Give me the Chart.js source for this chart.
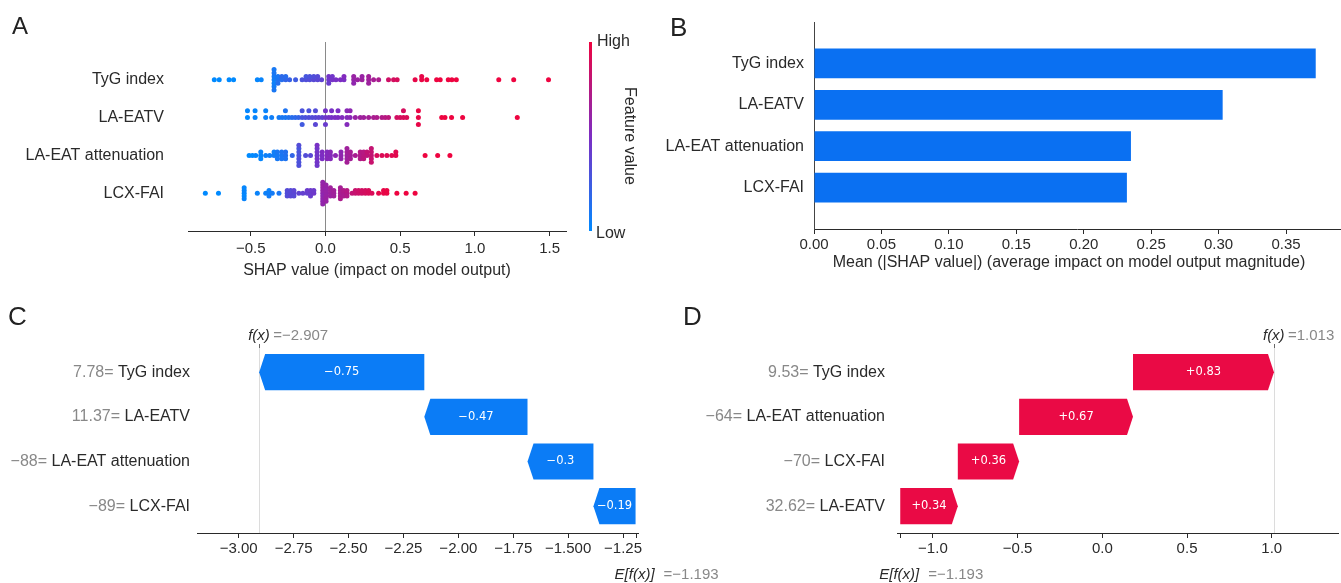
<!DOCTYPE html>
<html>
<head>
<meta charset="utf-8">
<script src="https://cdn.jsdelivr.net/npm/chart.js@4.4.1/dist/chart.umd.min.js"></script>
<style>
  body { margin: 0; background: #fff; }
  #page { position: relative; width: 1341px; height: 583px; overflow: hidden; font-family: 'Liberation Sans', Arial, sans-serif; }
  canvas { position: absolute; }
  .tag { position: absolute; color: #222; line-height: 1; }
</style>
</head>
<body>
<div id="page">
  <canvas id="chartA" width="660" height="290" style="left:0px;top:0px"></canvas>
  <canvas id="chartB" width="681" height="290" style="left:660px;top:0px"></canvas>
  <canvas id="chartC" width="745" height="283" style="left:0px;top:300px"></canvas>
  <canvas id="chartD" width="681" height="283" style="left:660px;top:300px"></canvas>
  <div class="tag" style="left:12px;top:14px;font-size:24px">A</div>
  <div class="tag" style="left:670px;top:14px;font-size:26px">B</div>
  <div class="tag" style="left:8px;top:303px;font-size:26px">C</div>
  <div class="tag" style="left:683px;top:303px;font-size:26px">D</div>
</div>
<script>
// ---- data ----
const features = ['TyG index', 'LA-EATV', 'LA-EAT attenuation', 'LCX-FAI'];

// panel A: SHAP value and (normalised) feature value for every sample
const tygShap = [-0.744, -0.711, -0.645, -0.615, -0.456, -0.43,
  -0.344, -0.344, -0.344, -0.344, -0.344, -0.344, -0.344,
  -0.318, -0.318, -0.318, -0.292, -0.292, -0.266, -0.266, -0.24, -0.2,
  -0.156, -0.13, -0.13, -0.105, -0.105, -0.078, -0.078, -0.052, -0.052, -0.026,
  0.022, 0.022, 0.022, 0.046, 0.046, 0.07, 0.1, 0.124, 0.124,
  0.189, 0.189, 0.189, 0.215, 0.245, 0.245, 0.289, 0.289, 0.289, 0.322, 0.356,
  0.422, 0.456, 0.48,
  0.6, 0.644, 0.644, 0.678, 0.744, 0.768, 0.822, 0.846, 0.876,
  1.16, 1.26, 1.493];
const tygFeat = [0, 0, 0, 0, 0.02, 0.03,
  0.06, 0.08, 0.05, 0.1, 0.07, 0.09, 0.1,
  0.12, 0.1, 0.14, 0.15, 0.18, 0.2, 0.16, 0.22, 0.25,
  0.3, 0.32, 0.28, 0.33, 0.3, 0.35, 0.32, 0.36, 0.34, 0.38,
  0.44, 0.46, 0.42, 0.47, 0.45, 0.48, 0.5, 0.49, 0.52,
  0.6, 0.62, 0.58, 0.63, 0.64, 0.62, 0.65, 0.66, 0.64, 0.68, 0.7,
  0.86, 0.88, 0.9,
  0.97, 0.98, 0.97, 0.99, 1, 1, 1, 1, 1,
  1, 1, 1];

const eatvShap = [-0.522, -0.522, -0.471, -0.471, -0.4, -0.4, -0.36,
  -0.311, -0.29, -0.268, -0.268, -0.246, -0.224, -0.202, -0.18,
  -0.156, -0.156, -0.156, -0.134, -0.111, -0.111, -0.089, -0.067, -0.067, -0.067, -0.045, -0.022,
  0, 0, 0, 0.022, 0.041, 0.041, 0.064, 0.084, 0.084, 0.111, 0.144, 0.144, 0.144, 0.165, 0.165,
  0.2, 0.233, 0.256, 0.289, 0.322, 0.344, 0.378, 0.4, 0.422,
  0.478, 0.5, 0.522, 0.522, 0.544,
  0.622, 0.622, 0.622,
  0.778, 0.8, 0.844, 0.918,
  1.284];
const eatvFeat = [0, 0.02, 0.03, 0.02, 0.05, 0.04, 0.06,
  0.08, 0.1, 0.1, 0.12, 0.13, 0.15, 0.17, 0.2,
  0.28, 0.3, 0.26, 0.3, 0.32, 0.3, 0.33, 0.35, 0.33, 0.36, 0.37, 0.38,
  0.44, 0.46, 0.42, 0.46, 0.47, 0.48, 0.49, 0.5, 0.49, 0.52, 0.53, 0.55, 0.53, 0.55, 0.57,
  0.62, 0.64, 0.65, 0.67, 0.69, 0.71, 0.73, 0.75, 0.77,
  0.87, 0.88, 0.9, 0.89, 0.91,
  0.97, 0.98, 0.97,
  1, 1, 1, 1,
  1];

const attShap = [-0.511, -0.489, -0.467, -0.433, -0.433, -0.433, -0.4, -0.373, -0.344, -0.344,
  -0.322, -0.322, -0.322, -0.293, -0.293, -0.293, -0.267, -0.267, -0.267, -0.222,
  -0.178, -0.178, -0.178, -0.178, -0.178, -0.178, -0.178, -0.133, -0.1,
  -0.056, -0.056, -0.056, -0.056, -0.056, -0.056, -0.056,
  -0.022, -0.022, -0.022, 0.011, 0.011, 0.011, 0.033, 0.033, 0.033, 0.067, 0.104, 0.104, 0.104,
  0.144, 0.144, 0.144, 0.144, 0.144, 0.167, 0.167, 0.167, 0.2,
  0.233, 0.233, 0.233, 0.256, 0.256, 0.256, 0.278, 0.278, 0.307, 0.307, 0.307, 0.307, 0.307,
  0.344, 0.378, 0.411, 0.444, 0.471, 0.471,
  0.667, 0.751, 0.833];
const attFeat = [0, 0, 0.02, 0.03, 0.04, 0.02, 0.05, 0.06, 0.07, 0.06,
  0.08, 0.1, 0.09, 0.1, 0.12, 0.11, 0.13, 0.14, 0.12, 0.2,
  0.3, 0.3, 0.32, 0.28, 0.3, 0.33, 0.31, 0.33, 0.36,
  0.44, 0.46, 0.47, 0.45, 0.46, 0.48, 0.44,
  0.5, 0.51, 0.49, 0.53, 0.52, 0.54, 0.53, 0.55, 0.54, 0.56, 0.58, 0.57, 0.59,
  0.64, 0.66, 0.64, 0.65, 0.67, 0.66, 0.68, 0.67, 0.69,
  0.72, 0.74, 0.73, 0.76, 0.75, 0.77, 0.78, 0.8, 0.8, 0.81, 0.82, 0.81, 0.83,
  0.9, 0.92, 0.93, 0.94, 0.95, 0.94,
  1, 1, 1];

const lcxShap = [-0.804, -0.716, -0.544, -0.544, -0.544, -0.544, -0.544, -0.456,
  -0.4, -0.378, -0.378, -0.378, -0.356, -0.311,
  -0.256, -0.256, -0.256, -0.233, -0.233, -0.233, -0.211, -0.211, -0.211,
  -0.178, -0.151, -0.122, -0.122, -0.1, -0.1, -0.1, -0.078, -0.078,
  -0.018, -0.018, -0.018, -0.018, -0.018, -0.018, -0.018, -0.018, -0.018,
  0.004, 0.004, 0.004, 0.004, 0.004, 0.004, 0.004,
  0.033, 0.033, 0.033, 0.033, 0.056, 0.056, 0.056,
  0.1, 0.1, 0.1, 0.1, 0.1, 0.122, 0.122, 0.122, 0.144, 0.144, 0.144,
  0.178, 0.2, 0.2, 0.222, 0.222, 0.244, 0.244, 0.267, 0.267, 0.289, 0.289, 0.311,
  0.356, 0.389, 0.389, 0.411, 0.411, 0.478, 0.54, 0.6];
const lcxFeat = [0, 0, 0.02, 0.03, 0.01, 0.02, 0.03, 0.04,
  0.05, 0.06, 0.05, 0.07, 0.08, 0.1,
  0.32, 0.34, 0.33, 0.35, 0.34, 0.36, 0.36, 0.37, 0.35,
  0.38, 0.4, 0.4, 0.42, 0.41, 0.43, 0.42, 0.44, 0.43,
  0.58, 0.6, 0.57, 0.61, 0.59, 0.62, 0.58, 0.6, 0.59,
  0.6, 0.61, 0.62, 0.6, 0.63, 0.61, 0.62,
  0.63, 0.64, 0.63, 0.65, 0.65, 0.66, 0.65,
  0.68, 0.7, 0.69, 0.68, 0.71, 0.71, 0.72, 0.7, 0.73, 0.74, 0.72,
  0.8, 0.82, 0.83, 0.84, 0.85, 0.86, 0.87, 0.88, 0.88, 0.9, 0.9, 0.91,
  0.96, 0.97, 0.97, 0.98, 0.98, 1, 1, 1];

const ticksA = [-0.5, 0, 0.5, 1, 1.5];
const tickLabelsA = ['\u22120.5', '0.0', '0.5', '1.0', '1.5'];

// panel B: mean |SHAP|
const meanAbsShap = [0.372, 0.303, 0.235, 0.232];
const ticksB = [0, 0.05, 0.1, 0.15, 0.2, 0.25, 0.3, 0.35];
const tickLabelsB = ['0.00', '0.05', '0.10', '0.15', '0.20', '0.25', '0.30', '0.35'];

// panel C: waterfall, negative case
const rowsC = ['TyG index', 'LA-EATV', 'LA-EAT attenuation', 'LCX-FAI'];
const valuesC = ['7.78', '11.37', '\u221288', '\u221289'];
const shapC = [-0.752, -0.47, -0.3, -0.192];
const ticksC = [-3, -2.75, -2.5, -2.25, -2, -1.75, -1.5, -1.25];
const tickLabelsC = ['\u22123.00', '\u22122.75', '\u22122.50', '\u22122.25', '\u22122.00', '\u22121.75', '\u22121.500', '\u22121.25'];

// panel D: waterfall, positive case
const rowsD = ['TyG index', 'LA-EAT attenuation', 'LCX-FAI', 'LA-EATV'];
const valuesD = ['9.53', '\u221264', '\u221270', '32.62'];
const shapD = [0.832, 0.672, 0.362, 0.34];
const ticksD = [-1, -0.5, 0, 0.5, 1];
const tickLabelsD = ['\u22121.0', '\u22120.5', '0.0', '0.5', '1.0'];

const baseValue = -1.193;

// ---- styling ----
const INK = '#2a2a2a';
const GREY = '#888';
const FONT = "'Liberation Sans', Arial, Helvetica, sans-serif";
const BAR_BLUE = '#0a70f2';
const ARROW_BLUE = '#0b7cf6';
const ARROW_RED = '#ea0a45';
const CMAP = [[0, [0, 138, 255]], [0.5, [125, 45, 195]], [1, [238, 4, 64]]];

Chart.defaults.font.family = FONT;
Chart.defaults.font.size = 15;
Chart.defaults.color = INK;
Chart.defaults.animation = false;
Chart.defaults.responsive = false;
Chart.defaults.events = [];
Chart.defaults.plugins.legend.display = false;
Chart.defaults.plugins.tooltip.enabled = false;

function cmap(t) {
  t = Math.max(0, Math.min(1, t));
  for (let k = 1; k < CMAP.length; k++) {
    const [t0, c0] = CMAP[k - 1], [t1, c1] = CMAP[k];
    if (t <= t1) {
      const f = (t - t0) / (t1 - t0);
      return 'rgb(' + c0.map((c, j) => Math.round(c + (c1[j] - c) * f)).join(',') + ')';
    }
  }
}

// same layering as shap's beeswarm: quantise into 100 bins, stack 0,+1,-1,+2,...
function swarmOffsets(vals) {
  const nbins = 100;
  const lo = Math.min(...vals), hi = Math.max(...vals);
  const quant = vals.map(v => Math.round(nbins * (v - lo) / (hi - lo + 1e-8)));
  const order = vals.map((_, i) => i).sort((a, b) => quant[a] - quant[b] || a - b);
  const ys = new Array(vals.length).fill(0);
  let layer = 0, last = -1;
  order.forEach(i => {
    if (quant[i] !== last) layer = 0;
    ys[i] = Math.ceil(layer / 2) * ((layer % 2) * 2 - 1);
    layer++;
    last = quant[i];
  });
  const m = Math.max(...ys.map(y => y + 1));
  return ys.map(y => y * 0.9 * (0.4 / m));
}

function xAxis(min, max, ticks, labels, height, pad) {
  return {
    type: 'linear', min: min, max: max, bounds: 'data',
    afterBuildTicks: s => { s.ticks = ticks.map(v => ({ value: v })); },
    afterFit: s => { s.height = height; },
    ticks: { autoSkip: false, maxRotation: 0, padding: pad, color: INK, callback: (v, i) => labels[i] },
    grid: { drawOnChartArea: false, tickLength: 5, tickColor: INK },
    border: { color: INK, width: 1 }
  };
}

function yAxis(width, pad, labels, min, max, showLabels, border) {
  return {
    type: 'linear', reverse: true, min: min, max: max, bounds: 'data', offset: false,
    afterBuildTicks: s => { s.ticks = labels.map((_, i) => ({ value: i })); },
    afterFit: s => { s.width = width; },
    ticks: { display: showLabels, padding: pad, color: INK, font: { size: 16 }, autoSkip: false, callback: (v, i) => labels[i] },
    grid: { display: false, drawTicks: false },
    border: { display: border, color: '#444', width: 1 }
  };
}

function axisTitle(text, cx, cy) {
  return {
    id: 'axisTitle',
    afterDraw(chart) {
      const { ctx, chartArea } = chart;
      ctx.save();
      ctx.font = '16px ' + FONT;
      ctx.fillStyle = INK;
      ctx.textAlign = 'center';
      ctx.textBaseline = 'middle';
      ctx.fillText(text, cx == null ? (chartArea.left + chartArea.right) / 2 : cx, cy);
      ctx.restore();
    }
  };
}

// ---- A: beeswarm ----
const beeRows = [[tygShap, tygFeat], [eatvShap, eatvFeat], [attShap, attFeat], [lcxShap, lcxFeat]];
const beePoints = [], beeColors = [];
beeRows.forEach(([shap, feat], r) => {
  const off = swarmOffsets(shap);
  shap.forEach((v, i) => {
    beePoints.push({ x: v, y: r - off[i] });
    beeColors.push(cmap(feat[i]));
  });
});

const zeroLine = {
  id: 'zeroLine',
  beforeDatasetsDraw(chart) {
    const { ctx, chartArea: a, scales } = chart;
    const x = Math.round(scales.x.getPixelForValue(0)) + 0.5;
    ctx.save();
    ctx.strokeStyle = '#8a8a8a';
    ctx.lineWidth = 1;
    ctx.beginPath();
    ctx.moveTo(x, a.top);
    ctx.lineTo(x, a.bottom);
    ctx.stroke();
    ctx.restore();
  }
};

const colorBar = {
  id: 'colorBar',
  afterDraw(chart) {
    const { ctx, chartArea: a } = chart;
    const x = a.right + 23;
    const g = ctx.createLinearGradient(0, a.bottom, 0, a.top);
    CMAP.forEach(([t]) => g.addColorStop(t, cmap(t)));
    ctx.save();
    ctx.fillStyle = g;
    ctx.fillRect(x, a.top, 3, a.bottom - a.top);
    ctx.font = '16px ' + FONT;
    ctx.fillStyle = INK;
    ctx.textBaseline = 'middle';
    ctx.textAlign = 'left';
    ctx.fillText('High', x + 8, a.top);
    ctx.fillText('Low', x + 7, a.bottom + 3);
    ctx.translate(x + 40, (a.top + a.bottom) / 2 - 0.5);
    ctx.rotate(Math.PI / 2);
    ctx.textAlign = 'center';
    ctx.fillText('Feature value', 0, 0);
    ctx.restore();
  }
};

new Chart(document.getElementById('chartA'), {
  type: 'scatter',
  data: { datasets: [{ data: beePoints, backgroundColor: beeColors, borderWidth: 0, pointRadius: 2.5 }] },
  options: {
    layout: { padding: { top: 42, right: 94, left: 0, bottom: 0 } },
    scales: {
      x: xAxis(-0.92, 1.61, ticksA, tickLabelsA, 59, 4),
      y: yAxis(188, 24, features, -1, 4, true, false)
    }
  },
  plugins: [zeroLine, colorBar, axisTitle('SHAP value (impact on model output)', null, 271)]
});

// ---- B: mean |SHAP| bars ----
new Chart(document.getElementById('chartB'), {
  type: 'bar',
  data: { datasets: [{ data: meanAbsShap.map((v, i) => ({ x: v, y: i })), backgroundColor: BAR_BLUE, borderWidth: 0 }] },
  options: {
    indexAxis: 'y',
    layout: { padding: { top: 22, right: 1, left: 0, bottom: 0 } },
    scales: {
      x: xAxis(0, 0.39, ticksB, tickLabelsB, 61, 2),
      y: yAxis(154, 10, features, -1, 4, true, true)
    }
  },
  plugins: [axisTitle('Mean (|SHAP value|) (average impact on model output magnitude)', 409, 263)]
});

// ---- C / D: waterfalls ----
function fmtSigned(v) {
  let s = v.toFixed(2).replace(/\.?0+$/, '');
  return v < 0 ? '\u2212' + s.slice(1) : '+' + s;
}
function fmt3(v) {
  const s = v.toFixed(3);
  return s[0] === '-' ? '\u2212' + s.slice(1) : s;
}

function waterfall(shap, base) {
  const segs = [];
  let cur = base;
  for (let i = shap.length - 1; i >= 0; i--) {
    segs[i] = [cur, cur + shap[i]];
    cur += shap[i];
  }
  return { segs: segs, fx: cur };
}

function waterfallPlugin(rows, vals, shap, segs, fx, base, labelX) {
  return {
    id: 'waterfall',
    beforeDatasetsDraw(chart) {
      const { ctx, chartArea: a, scales } = chart;
      const x = Math.round(scales.x.getPixelForValue(fx)) + 0.5;
      ctx.save();
      ctx.strokeStyle = '#dcdcdc';
      ctx.lineWidth = 1;
      ctx.beginPath();
      ctx.moveTo(x, a.top);
      ctx.lineTo(x, a.bottom);
      ctx.stroke();
      ctx.restore();
    },
    afterDatasetsDraw(chart) {
      const { ctx, scales } = chart;
      const meta = chart.getDatasetMeta(0);
      ctx.save();
      meta.data.forEach((bar, i) => {
        const p0 = scales.x.getPixelForValue(segs[i][0]);
        const p1 = scales.x.getPixelForValue(segs[i][1]);
        const dir = p1 > p0 ? 1 : -1;
        const head = Math.min(6, Math.abs(p1 - p0));
        const h = bar.height, y = bar.y;
        ctx.fillStyle = shap[i] < 0 ? ARROW_BLUE : ARROW_RED;
        ctx.beginPath();
        ctx.moveTo(p0, y - h / 2);
        ctx.lineTo(p1 - dir * head, y - h / 2);
        ctx.lineTo(p1, y);
        ctx.lineTo(p1 - dir * head, y + h / 2);
        ctx.lineTo(p0, y + h / 2);
        ctx.closePath();
        ctx.fill();
        ctx.fillStyle = '#fff';
        ctx.font = "11.5px 'DejaVu Sans', sans-serif";
        ctx.textAlign = 'center';
        ctx.textBaseline = 'middle';
        ctx.fillText(fmtSigned(shap[i]), (p0 + p1) / 2, y);
      });
      ctx.restore();
    },
    afterDraw(chart) {
      const { ctx, chartArea: a, scales } = chart;
      ctx.save();
      ctx.textBaseline = 'middle';
      // row labels: "value= name"
      rows.forEach((name, i) => {
        const y = scales.y.getPixelForValue(i);
        ctx.font = '16px ' + FONT;
        ctx.textAlign = 'right';
        ctx.fillStyle = INK;
        ctx.fillText(name, labelX, y);
        const w = ctx.measureText(' ' + name).width;
        ctx.fillStyle = GREY;
        ctx.fillText(vals[i] + '=', labelX - w, y);
      });
      // f(x) on top
      const xf = scales.x.getPixelForValue(fx);
      ctx.strokeStyle = '#666';
      ctx.lineWidth = 1;
      ctx.beginPath();
      ctx.moveTo(Math.round(xf) + 0.5, a.top - 4);
      ctx.lineTo(Math.round(xf) + 0.5, a.top);
      ctx.stroke();
      ctx.textAlign = 'left';
      ctx.font = 'italic 15px ' + FONT;
      ctx.fillStyle = INK;
      ctx.fillText('f(x)', xf - 11, a.top - 12);
      ctx.font = '15px ' + FONT;
      ctx.fillStyle = GREY;
      ctx.fillText('=' + fmt3(fx), xf + 14, a.top - 12);
      // E[f(x)] at the bottom
      const xb = scales.x.getPixelForValue(base);
      ctx.strokeStyle = INK;
      ctx.beginPath();
      ctx.moveTo(Math.round(xb) + 0.5, a.bottom);
      ctx.lineTo(Math.round(xb) + 0.5, a.bottom + 5);
      ctx.stroke();
      ctx.font = 'italic 15px ' + FONT;
      ctx.fillStyle = INK;
      ctx.fillText('E[f(x)]', xb - 21, a.bottom + 42);
      ctx.font = '15px ' + FONT;
      ctx.fillStyle = GREY;
      ctx.fillText('=' + fmt3(base), xb + 28, a.bottom + 42);
      ctx.restore();
    }
  };
}

function waterfallChart(id, rows, vals, shap, cfg) {
  const wf = waterfall(shap, baseValue);
  return new Chart(document.getElementById(id), {
    type: 'bar',
    data: {
      datasets: [{
        data: wf.segs.map((s, i) => ({ y: i, x: s })),
        backgroundColor: 'rgba(0,0,0,0)', borderWidth: 0,
        categoryPercentage: 1, barPercentage: 0.81
      }]
    },
    options: {
      indexAxis: 'y',
      layout: { padding: { top: 48, right: cfg.padRight, left: 0, bottom: 0 } },
      scales: {
        x: xAxis(cfg.min, cfg.max, cfg.ticks, cfg.tickLabels, 50, 1.5),
        y: yAxis(cfg.axisLeft, 0, rows, -0.54, 3.6, false, false)
      }
    },
    plugins: [waterfallPlugin(rows, vals, shap, wf.segs, wf.fx, baseValue, cfg.labelX)]
  });
}

waterfallChart('chartC', rowsC, valuesC, shapC,
  { min: -3.19, max: -1.182, ticks: ticksC, tickLabels: tickLabelsC, axisLeft: 197, padRight: 107, labelX: 190 });
waterfallChart('chartD', rowsD, valuesD, shapD,
  { min: -1.212, max: 1.391, ticks: ticksD, tickLabels: tickLabelsD, axisLeft: 237, padRight: 3, labelX: 225 });
</script>
</body>
</html>
